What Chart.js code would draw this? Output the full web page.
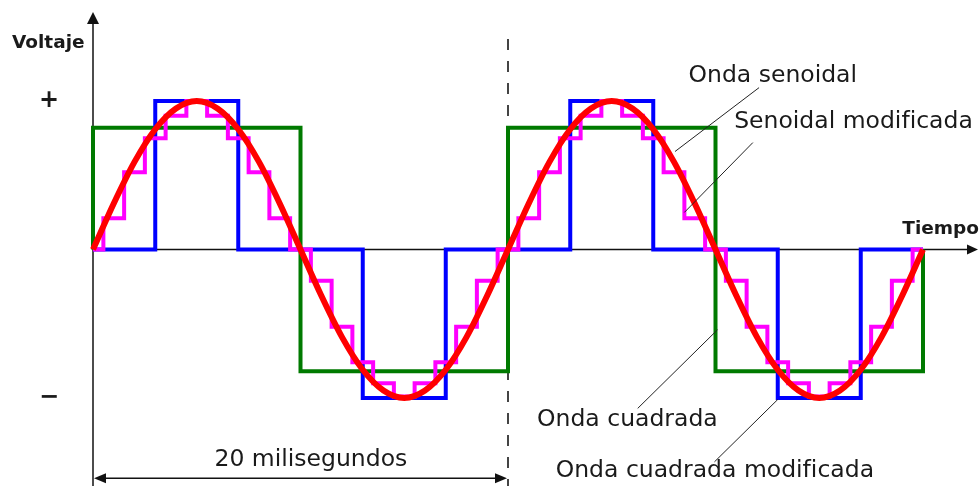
<!DOCTYPE html>
<html lang="es">
<head>
  <meta charset="UTF-8" />
  <title>Onda senoidal, cuadrada y modificada</title>
  <script src="https://cdn.jsdelivr.net/npm/chart.js"></script>
  <style>
    body {
      margin: 0;
      background: #ffffff;
    }
    .wrap {
      width: 979px;
      height: 486px;
      position: relative;
    }
  </style>
</head>
<body>
  <div class="wrap">
    <canvas id="waves"></canvas>
  </div>

  <script>
    // tiempo en milisegundos (dos periodos de 20 ms)
    const times = [0, 1, 2, 3, 4, 5, 6, 7, 8, 9, 10, 11, 12, 13, 14, 15, 16, 17, 18, 19,
                   20, 21, 22, 23, 24, 25, 26, 27, 28, 29, 30, 31, 32, 33, 34, 35, 36, 37, 38, 39, 40];

    // onda senoidal (rojo), leida cada 1 ms
    const sineValues = [0, 0.31, 0.59, 0.81, 0.95, 1, 0.95, 0.81, 0.59, 0.31,
                        0, -0.31, -0.59, -0.81, -0.95, -1, -0.95, -0.81, -0.59, -0.31,
                        0, 0.31, 0.59, 0.81, 0.95, 1, 0.95, 0.81, 0.59, 0.31,
                        0, -0.31, -0.59, -0.81, -0.95, -1, -0.95, -0.81, -0.59, -0.31, 0];

    // senoidal modificada (escalones, magenta)
    const stepValues = [0, 0.21, 0.52, 0.75, 0.9, 1, 0.9, 0.75, 0.52, 0.21,
                        0, -0.21, -0.52, -0.76, -0.9, -0.99, -0.9, -0.76, -0.52, -0.21,
                        0, 0.21, 0.52, 0.75, 0.9, 1, 0.9, 0.75, 0.52, 0.21,
                        0, -0.21, -0.52, -0.76, -0.9, -0.99, -0.9, -0.76, -0.52, -0.21, 0];

    // onda cuadrada modificada (azul): instantes de cambio y nivel
    const modSquareTimes = [0, 3, 7, 13, 17, 23, 27, 33, 37, 40];
    const modSquareLevels = [0, 1, 0, -1, 0, 1, 0, -1, 0, 0];

    // onda cuadrada (verde)
    const squareTimes = [0, 0, 10, 20, 30, 40, 40];
    const squareLevels = [0, 0.82, -0.82, 0.82, -0.82, -0.82, 0];

    // rotulos
    const labels = [
      { text: 'Onda senoidal',            t: 28.7, v: 1.17,  align: 'left' },
      { text: 'Senoidal modificada',      t: 30.9, v: 0.86,  align: 'left' },
      { text: 'Onda cuadrada',            t: 21.4, v: -1.15, align: 'left' },
      { text: 'Onda cuadrada modificada', t: 22.3, v: -1.49, align: 'left' },
      { text: '20 milisegundos',          t: 10.5, v: -1.42, align: 'center' }
    ];
    // lineas de referencia [t1, v1, t2, v2]
    const leaders = [
      [32.1, 1.09, 28.05, 0.66],
      [31.8, 0.72, 28.5, 0.25],
      [30.1, -0.54, 26.25, -1.07],
      [33.0, -1.01, 29.95, -1.43]
    ];
    const periodEnd = 20;

    const toPoints = (xs, ys) => xs.map((x, i) => ({ x: x, y: ys[i] }));

    function arrowHead(ctx, x, y, dx, dy, len, half) {
      // punta en (x, y), apuntando en la direccion (dx, dy)
      ctx.beginPath();
      ctx.moveTo(x, y);
      ctx.lineTo(x - dx * len - dy * half, y - dy * len + dx * half);
      ctx.lineTo(x - dx * len + dy * half, y - dy * len - dx * half);
      ctx.closePath();
      ctx.fill();
    }

    const overlay = {
      id: 'overlay',
      beforeDatasetsDraw(chart) {
        const ctx = chart.ctx;
        const xs = chart.scales.x, ys = chart.scales.y;
        const x0 = xs.getPixelForValue(0);
        const y0 = ys.getPixelForValue(0);
        const x20 = xs.getPixelForValue(periodEnd);
        ctx.save();
        ctx.strokeStyle = '#111';
        ctx.fillStyle = '#111';
        ctx.lineWidth = 1.5;

        // eje vertical
        ctx.beginPath();
        ctx.moveTo(x0, chart.height);
        ctx.lineTo(x0, 20);
        ctx.stroke();
        arrowHead(ctx, x0, 12, 0, -1, 12, 6);

        // eje horizontal
        ctx.beginPath();
        ctx.moveTo(x0, y0);
        ctx.lineTo(970, y0);
        ctx.stroke();
        arrowHead(ctx, 978, y0, 1, 0, 11, 5);

        // linea discontinua a los 20 ms
        ctx.strokeStyle = '#444';
        ctx.lineWidth = 2;
        ctx.setLineDash([11, 11]);
        ctx.beginPath();
        ctx.moveTo(x20, 39);
        ctx.lineTo(x20, chart.height);
        ctx.stroke();
        ctx.setLineDash([]);

        // cota de 20 ms
        const yDim = ys.getPixelForValue(-1.54);
        ctx.strokeStyle = '#111';
        ctx.lineWidth = 1.5;
        ctx.beginPath();
        ctx.moveTo(x0 + 8, yDim);
        ctx.lineTo(x20 - 8, yDim);
        ctx.stroke();
        arrowHead(ctx, x0 + 1, yDim, -1, 0, 12, 5);
        arrowHead(ctx, x20 - 1, yDim, 1, 0, 12, 5);
        ctx.restore();
      },
      afterDatasetsDraw(chart) {
        const ctx = chart.ctx;
        const xs = chart.scales.x, ys = chart.scales.y;
        ctx.save();
        ctx.strokeStyle = '#222';
        ctx.lineWidth = 1;
        leaders.forEach(l => {
          ctx.beginPath();
          ctx.moveTo(xs.getPixelForValue(l[0]), ys.getPixelForValue(l[1]));
          ctx.lineTo(xs.getPixelForValue(l[2]), ys.getPixelForValue(l[3]));
          ctx.stroke();
        });

        ctx.fillStyle = '#1a1a1a';
        ctx.textBaseline = 'middle';
        ctx.font = '23.5px "DejaVu Sans"';
        labels.forEach(l => {
          ctx.textAlign = l.align;
          ctx.fillText(l.text, xs.getPixelForValue(l.t), ys.getPixelForValue(l.v));
        });

        ctx.font = 'bold 18.5px "DejaVu Sans"';
        ctx.textAlign = 'left';
        ctx.fillText('Voltaje', 12, 43);
        ctx.textAlign = 'right';
        ctx.fillText('Tiempo', 979, ys.getPixelForValue(0) - 20);

        ctx.font = 'bold 24px "DejaVu Sans"';
        ctx.textAlign = 'center';
        ctx.fillText('+', 49, ys.getPixelForValue(1));
        ctx.fillText('−', 49, ys.getPixelForValue(-1));
        ctx.restore();
      }
    };

    new Chart(document.getElementById('waves'), {
      type: 'line',
      data: {
        datasets: [
          {
            label: 'Onda senoidal',
            data: toPoints(times, sineValues),
            borderColor: '#ff0000',
            borderWidth: 6,
            cubicInterpolationMode: 'monotone',
            pointRadius: 0,
            clip: false
          },
          {
            label: 'Senoidal modificada',
            data: toPoints(times, stepValues),
            borderColor: '#ff00ff',
            borderWidth: 4,
            stepped: 'middle',
            pointRadius: 0,
            clip: false
          },
          {
            label: 'Onda cuadrada modificada',
            data: toPoints(modSquareTimes, modSquareLevels),
            borderColor: '#0000ff',
            borderWidth: 4,
            stepped: true,
            pointRadius: 0,
            clip: false
          },
          {
            label: 'Onda cuadrada',
            data: toPoints(squareTimes, squareLevels),
            borderColor: '#007a00',
            borderWidth: 4,
            stepped: true,
            pointRadius: 0,
            clip: false
          }
        ]
      },
      options: {
        responsive: true,
        maintainAspectRatio: false,
        animation: false,
        layout: {
          padding: { left: 93, right: 56, top: 101, bottom: 88 }
        },
        plugins: {
          legend: { display: false },
          title: { display: false },
          tooltip: { enabled: false }
        },
        scales: {
          x: { type: 'linear', min: 0, max: 40, display: false },
          y: { type: 'linear', min: -1, max: 1, display: false }
        }
      },
      plugins: [overlay]
    });
  </script>
</body>
</html>
